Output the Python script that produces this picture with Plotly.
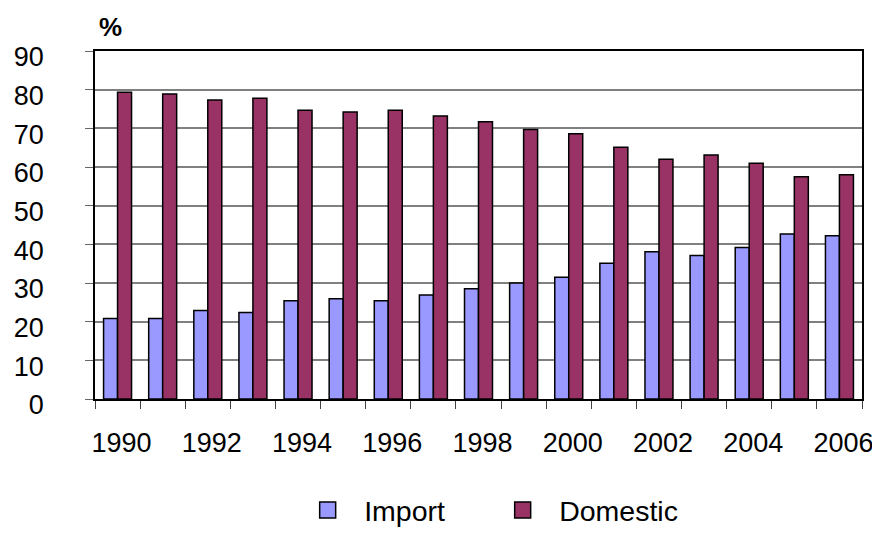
import plotly.graph_objects as go

years = [str(y) for y in range(1990, 2007)]
import_share = [20.8, 20.8, 22.9, 22.4, 25.4, 25.9, 25.4, 26.9, 28.5, 30.0,
                31.5, 35.1, 38.1, 37.1, 39.2, 42.7, 42.2]
domestic_share = [79.3, 78.9, 77.3, 77.8, 74.7, 74.2, 74.7, 73.2, 71.7, 69.7,
                  68.6, 65.1, 62.0, 63.1, 61.0, 57.5, 58.0]
tick_text = [y if int(y) % 2 == 0 else "" for y in years]

import_color = "#9999FF"
domestic_color = "#993366"
font_family = "Liberation Sans, Arial, sans-serif"

fig = go.Figure()

fig.add_trace(go.Bar(x=years, y=import_share, name="Import", showlegend=False,
                     marker=dict(color=import_color, line=dict(color="black", width=1.5))))
fig.add_trace(go.Bar(x=years, y=domestic_share, name="Domestic", showlegend=False,
                     marker=dict(color=domestic_color, line=dict(color="black", width=1.5))))

# legend entries with bigger squares
for name, color in [("Import", import_color), ("Domestic", domestic_color)]:
    fig.add_trace(go.Scatter(x=[None], y=[None], mode="markers", name=name,
                             marker=dict(symbol="square", size=18, color=color,
                                         line=dict(color="black", width=1.5))))

# page body has an 8px margin, margins are shifted to make up for it
fig.update_layout(
    width=880, height=540,
    margin=dict(l=87, r=26, t=43, b=129),
    paper_bgcolor="white", plot_bgcolor="white",
    font=dict(family=font_family, size=27, color="black"),
    barmode="group", bargap=0.38, bargroupgap=0,
    legend=dict(orientation="h", x=0.51, y=-0.32, xanchor="center", yanchor="middle",
                font=dict(size=28.5), itemwidth=63, entrywidth=117, entrywidthmode="pixels",
                tracegroupgap=0),
    annotations=[dict(text="<b>%</b>", x=0.02, y=1.07, xref="paper", yref="paper",
                      showarrow=False, font=dict(size=26), xanchor="center", yanchor="middle")],
)

fig.update_xaxes(type="category", tickmode="array", tickvals=years, ticktext=tick_text,
                 tickson="boundaries", ticks="outside", ticklen=8, tickcolor="#444",
                 tickangle=0, automargin=False, ticklabelshift=4,
                 showline=True, linecolor="black", linewidth=1.5, mirror=True,
                 showgrid=False, ticklabelstandoff=19)
fig.update_yaxes(range=[0, 90], dtick=10, ticks="outside", ticklen=8, tickcolor="#666",
                 automargin=False, ticklabelshift=6,
                 showgrid=True, gridcolor="#808080", gridwidth=1.5,
                 showline=True, linecolor="black", linewidth=1.5, mirror=True,
                 zeroline=False, ticklabelstandoff=36)

fig.write_html("out.html")
